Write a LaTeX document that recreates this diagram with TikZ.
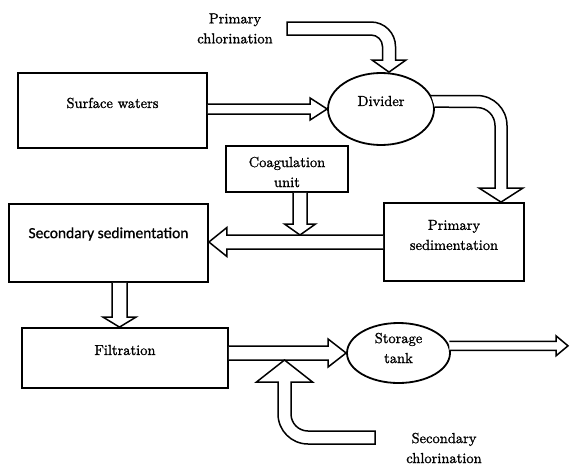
\documentclass[tikz,border=0pt]{standalone}
\usepackage{fontspec}
\newfontfamily\calibri{Carlito}[FakeBold=0.8]
\newfontfamily\tnr{lmroman10-regular}[Extension=.otf, FakeBold=1.2]
\usetikzlibrary{calc,shapes.geometric}
\tikzset{
  boxnode/.style={draw, line width=1.8pt, rectangle, inner sep=0pt},
  ellnode/.style={draw, line width=1.8pt, ellipse, inner sep=0pt},
  lab/.style={font=\tnr\fontsize{14.5}{20}\selectfont, align=center, inner sep=0pt},
  calab/.style={font=\calibri\fontsize{15.5}{20}\selectfont, align=center, inner sep=0pt},
  fat/.style={draw, line width=1.5pt, fill=white, line join=miter},
}
\newcommand\fatarrow[5]{% start, end, half shaft, half head, head length
  \coordinate (fas) at (#1);
  \coordinate (fae) at (#2);
  \coordinate (fab) at ($(fae)!#5!(fas)$);
  \draw[fat] ($(fas)!#3!90:(fae)$) -- ($(fab)!#3!90:(fae)$) -- ($(fab)!#4!90:(fae)$)
    -- (fae) -- ($(fab)!#4!-90:(fae)$) -- ($(fab)!#3!-90:(fae)$) -- ($(fas)!#3!-90:(fae)$);
}
\begin{document}
\begin{tikzpicture}[x=1pt, y=-1pt]
\useasboundingbox (0,0) rectangle (570,466);

% boxes
\node[boxnode, minimum width=189pt, minimum height=75pt,
      label={[lab, yshift=7.5pt]center:Surface waters}] (surf) at (112.5,110.5) {};
\node[ellnode, minimum width=106pt, minimum height=72pt,
      label={[lab, yshift=8pt]center:Divider}] (div) at (381,109) {};
\node[boxnode, minimum width=122pt, minimum height=46pt,
      label={[lab, yshift=-3pt]center:Coagulation\\unit}] (coag) at (287,169) {};
\node[boxnode, minimum width=199pt, minimum height=78pt,
      label={[calab, yshift=9pt]center:Secondary sedimentation}] (ss) at (108.5,243) {};
\node[boxnode, minimum width=140pt, minimum height=78pt,
      label={[lab, yshift=7pt]center:Primary\\sedimentation}] (ps) at (454,242) {};
\node[boxnode, minimum width=206pt, minimum height=60pt,
      label={[lab, yshift=8pt]center:Filtration}] (filt) at (125,358) {};
\node[ellnode, minimum width=103pt, minimum height=60pt,
      label={[lab, yshift=5pt]center:Storage\\tank}] (st) at (398.5,353) {};

% free texts
\node[lab] (pc) at (235,28.5) {Primary\\chlorination};
\node[lab] (sc) at (444,448) {Secondary\\chlorination};

% named points
\coordinate (pcs) at (287,28.5);
\coordinate (pctip) at ([xshift=8pt]div.north);
\coordinate (pstip) at ([xshift=47pt]ps.north);
\coordinate (ctip) at (300,235);
\coordinate (ssout) at ([xshift=11pt]ss.south);
\coordinate (sctip) at (284.5,360);
\coordinate (scs) at (375,437.5);
\coordinate (outend) at (568,346);

% straight fat arrows
\fatarrow{surf.east |- div.west}{div.west}{5pt}{11pt}{17pt}
\fatarrow{ps.west}{ss.east |- ps.west}{7pt}{14.5pt}{18pt}
\fatarrow{coag.south -| ctip}{ctip}{7pt}{15.5pt}{11pt}
\fatarrow{ssout}{filt.north -| ssout}{7.5pt}{16.5pt}{10pt}
\fatarrow{filt.east |- st.west}{st.west}{7pt}{14pt}{18pt}
\fatarrow{st.8}{st.8 -| outend}{4.5pt}{10pt}{12pt}

% primary chlorination (curved)
\draw[fat] (pctip) -- (406,60) -- (395.5,60) -- (395.5,46.5)
  arc[start angle=0, end angle=90, radius=24.5pt] -- ([yshift=6.5pt]pcs)
  -- ([yshift=-6.5pt]pcs) -- (371,35)
  arc[start angle=90, end angle=0, radius=11.5pt] -- (382.5,60) -- (372,60) -- cycle;

% divider output (curved)
\draw[fat] (div.15) -- (477,95.5)
  arc[start angle=90, end angle=0, radius=30pt] -- (507,188) -- (523,188) -- (pstip)
  -- (479,188) -- (495,188) -- (495,125.5)
  arc[start angle=0, end angle=90, radius=18pt] -- (div.2);

% secondary chlorination (curved)
\draw[fat] (sctip) -- (312.5,382) -- (291,382) -- (291,414)
  arc[start angle=180, end angle=270, radius=17pt] -- ([yshift=6.5pt]scs)
  -- ([yshift=-6.5pt]scs) -- (308,444)
  arc[start angle=270, end angle=180, radius=30pt] -- (278,382) -- (256.5,382) -- cycle;
\end{tikzpicture}
\end{document}
